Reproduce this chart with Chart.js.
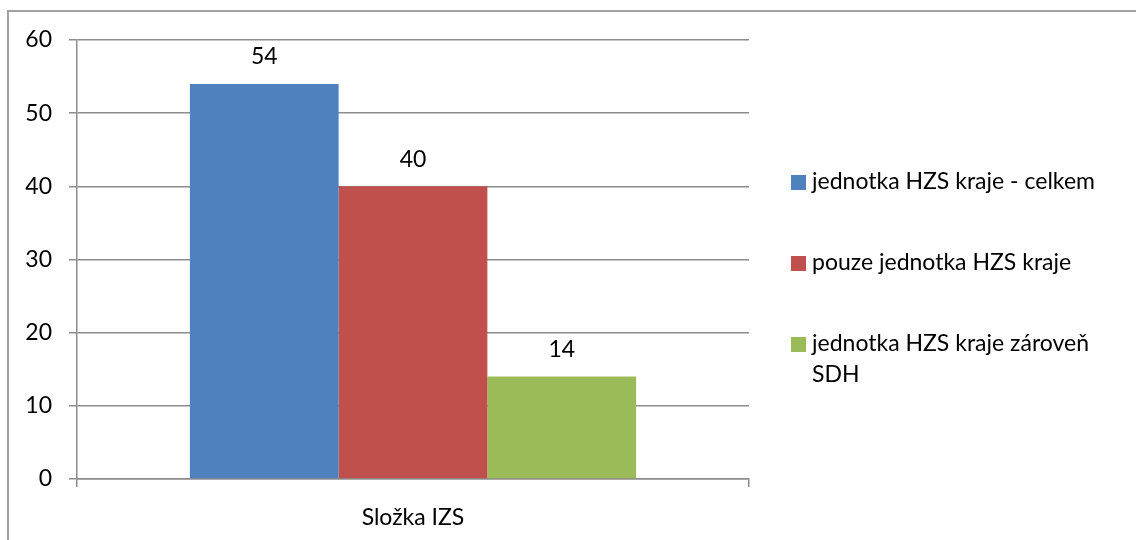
<!DOCTYPE html>
<html><head><meta charset="utf-8">
<script src="https://cdn.jsdelivr.net/npm/chart.js@4"></script>
<style>
html,body{margin:0;padding:0;background:#fff;overflow:hidden}
#wrap{position:relative;width:1136px;height:540px;overflow:hidden}
#frame{position:absolute;left:7px;top:10px;width:1300px;height:700px;border-top:2px solid #a0a0a0;border-left:2px solid #a0a0a0}
canvas{position:absolute;left:0;top:0}
</style></head>
<body>
<div id="wrap"><div id="frame"></div><canvas id="c" width="1136" height="540"></canvas></div>
<script>
const categories = ['Složka IZS'];
const seriesLabels = ['jednotka HZS kraje - celkem', 'pouze jednotka HZS kraje', 'jednotka HZS kraje zároveň SDH'];
const seriesValues = [54, 40, 14];
const seriesColors = ['#4F81BD', '#C0504D', '#9BBB59'];
const yMin = 0, yMax = 60, yStep = 10;

const FONT = 'Lato';
const FS = 23;
const gridColor = '#8c8c8c';

const datasets = seriesLabels.map((lab, i) => ({
  label: lab,
  data: [seriesValues[i]],
  backgroundColor: seriesColors[i],
  borderWidth: 0
}));

const valueLabels = {
  id: 'valueLabels',
  afterDatasetsDraw(chart) {
    const ctx = chart.ctx;
    ctx.save();
    ctx.font = FS + 'px ' + FONT;
    ctx.fillStyle = '#000';
    ctx.textAlign = 'center';
    ctx.textBaseline = 'middle';
    chart.data.datasets.forEach((ds, i) => {
      const meta = chart.getDatasetMeta(i);
      meta.data.forEach((bar, j) => {
        ctx.fillText(String(ds.data[j]), bar.x, bar.y - 27);
      });
    });
    ctx.restore();
  }
};

const sideLegend = {
  id: 'sideLegend',
  afterDraw(chart) {
    const ctx = chart.ctx;
    ctx.save();
    ctx.font = FS + 'px ' + FONT;
    ctx.textBaseline = 'middle';
    ctx.textAlign = 'left';
    const boxX = 791, box = 15, textX = 812, maxW = 330;
    let y = 182;
    const step = 81, lineH = 31;
    chart.data.datasets.forEach((ds) => {
      ctx.fillStyle = ds.backgroundColor;
      ctx.fillRect(boxX, Math.round(y - box / 2), box, box);
      ctx.fillStyle = '#000';
      const words = ds.label.split(' ');
      const lines = [];
      let cur = '';
      words.forEach(w => {
        const t = cur ? cur + ' ' + w : w;
        if (ctx.measureText(t).width > maxW && cur) { lines.push(cur); cur = w; }
        else cur = t;
      });
      if (cur) lines.push(cur);
      lines.forEach((ln, k) => ctx.fillText(ln, textX, y + k * lineH));
      y += step;
    });
    ctx.restore();
  }
};

new Chart(document.getElementById('c'), {
  type: 'bar',
  data: { labels: categories, datasets },
  plugins: [valueLabels, sideLegend],
  options: {
    responsive: false,
    animation: false,
    devicePixelRatio: 1,
    layout: { padding: { left: 0, top: 40, right: 387, bottom: 0 } },
    plugins: { legend: { display: false }, tooltip: { enabled: false } },
    datasets: { bar: { categoryPercentage: 0.664, barPercentage: 1 } },
    scales: {
      x: {
        grid: { display: true, drawOnChartArea: false, offset: true, tickLength: 8, color: gridColor, lineWidth: 1.5 },
        border: { display: true, color: gridColor, width: 1.5 },
        ticks: { font: { family: FONT, size: FS }, color: '#000', padding: 17 },
        afterFit(s) { s.height = 61; }
      },
      y: {
        min: yMin, max: yMax,
        grid: { color: gridColor, lineWidth: 1.5, tickLength: 8 },
        border: { display: true, color: gridColor, width: 1.5 },
        ticks: { stepSize: yStep, font: { family: FONT, size: FS }, color: '#000', padding: 17 },
        afterFit(s) { s.width = 77; }
      }
    }
  }
});
</script>
</body></html>
